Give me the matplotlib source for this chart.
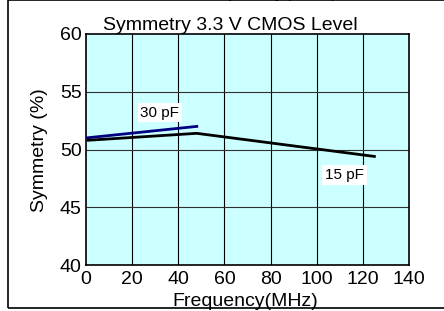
import matplotlib.pyplot as plt
from matplotlib.patches import Rectangle

plt.rcParams['font.family'] = ['Liberation Sans', 'DejaVu Sans']

freq_30pf = [0, 48]
sym_30pf = [51.0, 52.0]
freq_15pf = [1, 48, 125]
sym_15pf = [50.8, 51.4, 49.4]

W, H = 444, 311
fig = plt.figure(figsize=(W / 100, H / 100), dpi=100)
ax = fig.add_axes([86 / W, 1 - 265 / H, (409 - 86) / W, (265 - 34) / H])
ax.set_facecolor('#ccffff')

ax.set_xlim(0, 140)
ax.set_ylim(40, 60)
ax.set_xticks(range(0, 141, 20))
ax.set_yticks([40, 45, 50, 55, 60])
ax.tick_params(length=0, labelsize=14)
ax.tick_params(axis='x', pad=4)
ax.tick_params(axis='y', pad=3)
for v in range(20, 140, 20):
    ax.axvline(v, color='black', lw=0.8, zorder=1)
for v in [45, 50, 55]:
    ax.axhline(v, color='#303030', lw=0.8, zorder=1)
for s in ax.spines.values():
    s.set_linewidth(1.2)

ax.plot(freq_30pf, sym_30pf, color='#000080', lw=2, zorder=3)
ax.plot(freq_15pf, sym_15pf, color='black', lw=2, zorder=3)

box = dict(facecolor='white', edgecolor='none', pad=2)
ax.text(32, 53.2, '30 pF', fontsize=11, ha='center', va='center', bbox=box, zorder=4)
ax.text(112, 47.8, '15 pF', fontsize=11, ha='center', va='center', bbox=box, zorder=4)

fig.text(230 / W, 1 - 26 / H, 'Symmetry 3.3 V CMOS Level', fontsize=14, ha='center', va='center')
fig.text(245 / W, 1 - 301 / H, 'Frequency(MHz)', fontsize=14, ha='center', va='center')
fig.text(40 / W, 1 - 150 / H, 'Symmetry (%)', fontsize=14, ha='center', va='center', rotation=90)
# descenders of the label from the chart above, cut by the frame
fig.text(265 / W, 1 + 3 / H, 'Frequency(MHz)', fontsize=14, ha='center', va='baseline')

fig.add_artist(Rectangle((8 / W, 1 - 308 / H), 1.0, 308 / H, transform=fig.transFigure,
                         fill=False, edgecolor='black', lw=1.2))

fig.savefig('out.png', dpi=100)
